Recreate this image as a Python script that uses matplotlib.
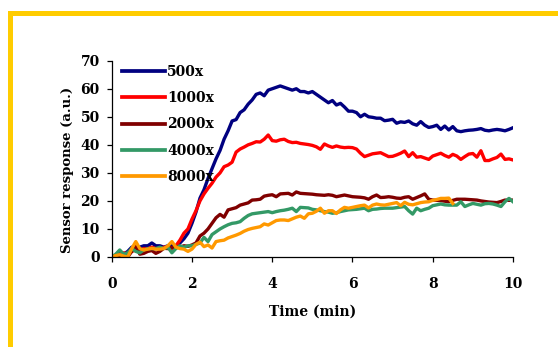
import numpy as np
import matplotlib
matplotlib.use("Agg")
import matplotlib.pyplot as plt
from matplotlib.patches import Rectangle

time_min = [round(0.1 * i, 1) for i in range(101)]

s500 = [0, 0.5, 1.5, 1, 2, 3.5, 3, 3.5, 4, 4,
        5, 4, 4, 3.5, 4, 4, 4, 5, 6.5, 8.5,
        12, 16, 21, 24, 28, 31.5, 35, 38, 42, 45,
        48.5, 49, 51.5, 52.5, 54.5, 56, 58, 58.5, 57.5, 59.5,
        60, 60.5, 61, 60.5, 60, 59.5, 60, 59, 59, 58.5,
        59, 58, 57, 56, 55, 55.8, 54.2, 54.8, 53.5, 52,
        52, 51.5, 50, 50.9, 50, 49.8, 49.5, 49.5, 48.6, 48.8,
        49.1, 47.7, 48.2, 48, 48.5, 47.5, 47, 48.3, 47, 46.2,
        46.5, 47, 45.5, 46.7, 45.3, 46.5, 45, 44.7, 45, 45.2,
        45.3, 45.5, 45.8, 45.2, 45, 45.3, 45.5, 45.3, 45, 45.5,
        46.1]

s1000 = [0, 0.5, 1, 1.5, 1, 2, 2.5, 2, 3, 3,
         3.5, 3, 3, 3.5, 3.5, 3, 4, 6, 8.5, 10,
         13.5, 16.5, 20, 22.5, 24.5, 26.3, 28.5, 30, 32.2, 32.8,
         33.8, 37.4, 38.5, 39.2, 40, 40.5, 41.1, 41, 42, 43.5,
         41.5, 41.3, 41.8, 42, 41.2, 40.8, 40.9, 40.5, 40.3, 40.1,
         39.8, 39.3, 38.4, 40.3, 39.6, 39.1, 39.6, 39.2, 39, 39.1,
         39, 38.5, 37, 35.8, 36.3, 36.8, 37, 37.2, 36.5, 35.8,
         35.9, 36.4, 37, 37.8, 35.8, 37.2, 35.6, 35.8, 35.3, 34.8,
         36, 36.5, 37, 36.2, 35.6, 36.6, 36, 34.8, 35.8, 36.7,
         36.9, 35.6, 37.9, 34.4, 34.4, 35, 35.5, 36.7, 34.8, 35,
         34.6]

s2000 = [0, 0, 0.5, 0, 0, 2, 4, 1, 1.3, 2,
         2.3, 1.3, 2, 3.1, 3, 3.4, 3.5, 3.5, 4, 3.8,
         4.3, 5, 7.5, 8.5, 10, 12, 14, 15.2, 14.2, 16.8,
         17.2, 17.6, 18.5, 18.9, 19.3, 20.3, 20.4, 20.6, 21.7, 22,
         22.2, 21.5, 22.5, 22.6, 22.7, 22.1, 23.2, 22.7, 22.6, 22.5,
         22.4, 22.2, 22.1, 22, 22.2, 22, 21.5, 21.8, 22.1, 21.8,
         21.5, 21.4, 21.3, 21.1, 20.6, 21.5, 22.1, 21.2, 21.3, 21.5,
         21.3, 21, 20.9, 21.3, 21.5, 20.6, 21.2, 21.8, 22.5, 20.6,
         20.3, 20.2, 20.1, 19.9, 19.7, 20.2, 20.6, 20.6, 20.6, 20.5,
         20.4, 20.3, 20, 19.8, 19.6, 19.5, 19.4, 19.8, 20.3, 20.2,
         20.3]

s4000 = [0, 1, 2.5, 1, 1.5, 3, 2, 1.5, 2.5, 3,
         3, 3, 3.5, 3, 3.5, 1.5, 3, 4, 3.5, 4,
         4, 4.5, 5, 7, 5.5, 8, 9, 10, 10.8, 11.5,
         12, 12.2, 12.6, 13.8, 14.8, 15.4, 15.6, 15.8, 16, 16.2,
         15.8, 16.2, 16.5, 16.7, 17, 17.4, 16.2, 17.7, 17.6, 17.5,
         17, 16.8, 16.5, 16.2, 16, 15.6, 15.8, 16.2, 16.5, 16.8,
         16.9, 17, 17.2, 17.4, 16.5, 17, 17.1, 17.3, 17.4, 17.4,
         17.4, 17.6, 17.8, 18, 16.5, 15.3, 17.4, 16.5, 17, 17.4,
         18.3, 18.6, 18.9, 18.6, 18.5, 18.5, 18.5, 19.7, 18, 18.6,
         19.1, 18.8, 18.5, 19, 19.1, 18.9, 18.5, 18, 19.7, 20.9,
         19.7]

s8000 = [0, 0.5, 0.8, 0.3, 0, 3, 5.5, 3, 2.5, 2.8,
         3.1, 2.8, 2.8, 3, 4, 5.5, 3.5, 3, 2.8, 2,
         2.8, 4.5, 5.3, 3.7, 4.3, 3.2, 5.5, 5.8, 6, 6.8,
         7.3, 7.8, 8.4, 9.2, 9.8, 10.2, 10.5, 10.8, 11.8, 11.4,
         12.2, 13, 13.2, 13.2, 13, 13.6, 14.2, 14.6, 13.8, 15.4,
         15.6, 16.3, 17.4, 15.6, 16.5, 16.5, 15.5, 16.8, 17.7, 17.4,
         17.7, 18, 18.3, 18.5, 17.5, 18.5, 18.9, 18.6, 18.5, 18.8,
         19.1, 19.4, 18.3, 19.5, 18.8, 18.6, 19, 19.4, 19.6, 19.7,
         20.2, 20.5, 20.9, 20.9, 21, 19.1]

labels = ["500x", "1000x", "2000x", "4000x", "8000x"]
colors = ["#000080", "#FF0000", "#800000", "#339966", "#FF9900"]
series = [s500, s1000, s2000, s4000, s8000]

x_ticks = [0, 2, 4, 6, 8, 10]
y_ticks = [0, 10, 20, 30, 40, 50, 60, 70]

plt.rcParams['font.family'] = ['DejaVu Serif']
plt.rcParams['font.weight'] = 'bold'
FS = 10

fig = plt.figure(figsize=(5.58, 3.47), dpi=100)
fig.patches.append(Rectangle((8/558, 0), 4.5/558, 1 - 11/347, transform=fig.transFigure,
                             facecolor="#FFCC00", edgecolor="none", zorder=0))
fig.patches.append(Rectangle((8/558, 1 - 16/347), 1 - 8/558, 5/347, transform=fig.transFigure,
                             facecolor="#FFCC00", edgecolor="none", zorder=0))

ax = fig.add_axes([111.7/558, 1 - 257/347, (513 - 111.7)/558, (257 - 60.7)/347])

for s, lab, c in zip(series, labels, colors):
    ax.plot(time_min[:len(s)], s, color=c, lw=2.4, label=lab)

ax.set_xlim(0, 10)
ax.set_ylim(0, 70)
ax.set_xticks(x_ticks)
ax.set_yticks(y_ticks)
for sp in ['top', 'right']:
    ax.spines[sp].set_visible(False)
for sp in ['left', 'bottom']:
    ax.spines[sp].set_linewidth(0.9)
ax.tick_params(axis='x', direction='out', length=3.6, width=0.9, pad=11, labelsize=FS)
ax.tick_params(axis='y', direction='out', length=3.6, width=0.9, pad=5, labelsize=FS)
for lbl in ax.get_xticklabels() + ax.get_yticklabels():
    lbl.set_fontweight('bold')

ax.set_xlabel("Time (min)", fontsize=FS, fontweight='bold', labelpad=10)
ax.set_ylabel("Sensor response (a.u.)", fontsize=9.5, fontweight='bold')
ax.yaxis.set_label_coords(-0.094, 0.443)

leg = ax.legend(loc='upper left', bbox_to_anchor=(122/558, 1 - 65/347),
                bbox_transform=fig.transFigure, frameon=False,
                handlelength=3.1, handletextpad=0.15, labelspacing=0.88,
                borderaxespad=0, borderpad=0, prop={'weight': 'bold', 'size': FS})
for h in leg.get_lines():
    h.set_linewidth(2.7)

fig.savefig("out.png", dpi=100)
